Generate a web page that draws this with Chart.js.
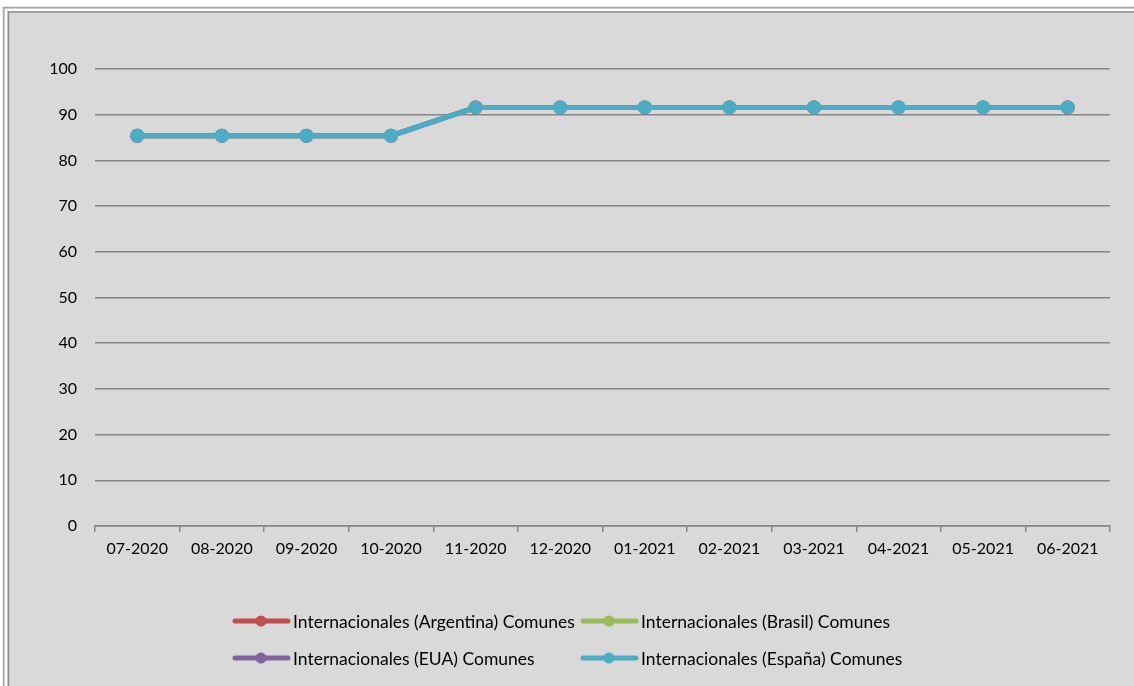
<!DOCTYPE html>
<html>
<head>
<meta charset="utf-8">
<script src="https://cdn.jsdelivr.net/npm/chart.js@4/dist/chart.umd.min.js"></script>
<style>
  html, body { margin: 0; padding: 0; background: #ffffff; }
  #wrap { width: 1134px; height: 686px; position: relative; }
</style>
</head>
<body>
<div id="wrap"><canvas id="lineChart"></canvas></div>
<script>
    // meses (eje x)
    var meses = ["07-2020", "08-2020", "09-2020", "10-2020", "11-2020", "12-2020",
                 "01-2021", "02-2021", "03-2021", "04-2021", "05-2021", "06-2021"];

    // las cuatro series son iguales, Espana queda encima
    var argentina = [85.4, 85.4, 85.4, 85.4, 91.6, 91.6, 91.6, 91.6, 91.6, 91.6, 91.6, 91.6];
    var brasil    = [85.4, 85.4, 85.4, 85.4, 91.6, 91.6, 91.6, 91.6, 91.6, 91.6, 91.6, 91.6];
    var eua       = [85.4, 85.4, 85.4, 85.4, 91.6, 91.6, 91.6, 91.6, 91.6, 91.6, 91.6, 91.6];
    var espana    = [85.4, 85.4, 85.4, 85.4, 91.6, 91.6, 91.6, 91.6, 91.6, 91.6, 91.6, 91.6];

    var nombres = ["Internacionales (Argentina) Comunes", "Internacionales (Brasil) Comunes",
                   "Internacionales (EUA) Comunes", "Internacionales (España) Comunes"];
    var colores = ["#c0504d", "#9bbb59", "#8064a2", "#4bacc6"];

    var fuente = "Lato, 'Open Sans', sans-serif";

    function serie(i, valores) {
        return {
            label: nombres[i],
            data: valores,
            order: 3 - i,   // la ultima serie se dibuja encima
            borderColor: colores[i],
            backgroundColor: colores[i],
            borderWidth: 5,
            pointRadius: 7,
            pointHoverRadius: 7,
            pointBorderWidth: 0,
            tension: 0
        };
    }

    // marco gris con doble borde (estilo Excel)
    var marco = {
        id: "marco",
        beforeDraw: function (chart) {
            var ctx = chart.ctx;
            ctx.save();
            ctx.fillStyle = "#ffffff";
            ctx.fillRect(0, 0, chart.width, chart.height);
            ctx.fillStyle = "#d9d9d9";
            ctx.fillRect(4, 8, chart.width, chart.height);
            ctx.strokeStyle = "#a6a6a6";
            ctx.lineWidth = 1.5;
            ctx.beginPath();
            ctx.moveTo(3.5, chart.height + 2);
            ctx.lineTo(3.5, 7.5);
            ctx.lineTo(chart.width + 2, 7.5);
            ctx.stroke();
            ctx.strokeStyle = "#ffffff";
            ctx.lineWidth = 2;
            ctx.beginPath();
            ctx.moveTo(6, chart.height + 2);
            ctx.lineTo(6, 10);
            ctx.lineTo(chart.width + 2, 10);
            ctx.stroke();
            ctx.strokeStyle = "#8c8c8c";
            ctx.lineWidth = 1.5;
            ctx.beginPath();
            ctx.moveTo(8.5, chart.height + 2);
            ctx.lineTo(8.5, 12);
            ctx.lineTo(chart.width + 2, 12);
            ctx.stroke();
            ctx.restore();
        }
    };

    // leyenda en dos filas
    var leyenda = {
        id: "leyenda",
        afterDraw: function (chart) {
            var ctx = chart.ctx;
            var pos = [[235, 621], [583, 621], [235, 658], [583, 658]];
            ctx.save();
            ctx.font = "17.5px " + fuente;
            ctx.textBaseline = "middle";
            chart.data.datasets.forEach(function (ds, i) {
                var x = pos[i][0], y = pos[i][1];
                ctx.strokeStyle = ds.borderColor;
                ctx.lineWidth = 5;
                ctx.lineCap = "round";
                ctx.beginPath();
                ctx.moveTo(x, y);
                ctx.lineTo(x + 53, y);
                ctx.stroke();
                ctx.fillStyle = ds.borderColor;
                ctx.beginPath();
                ctx.arc(x + 26, y, 5.5, 0, Math.PI * 2);
                ctx.fill();
                ctx.fillStyle = "#000000";
                ctx.fillText(ds.label, x + 58, y + 1);
            });
            ctx.restore();
        }
    };

    new Chart(document.getElementById("lineChart"), {
        type: "line",
        data: {
            labels: meses,
            datasets: [serie(0, argentina), serie(1, brasil), serie(2, eua), serie(3, espana)]
        },
        options: {
            responsive: true,
            maintainAspectRatio: false,
            animation: false,
            layout: {
                padding: { left: 0, right: 24, top: 69, bottom: 0 }
            },
            plugins: {
                legend: { display: false },
                title: { display: false },
                tooltip: { enabled: false }
            },
            scales: {
                x: {
                    offset: true,
                    afterFit: function (scale) { scale.height = 160; },
                    grid: {
                        offset: true,
                        drawOnChartArea: false,
                        drawTicks: true,
                        tickLength: 6,
                        color: "#868686",
                        lineWidth: 1.5
                    },
                    border: { display: true, color: "#868686", width: 1.5 },
                    ticks: {
                        color: "#000000",
                        padding: 7,
                        maxRotation: 0,
                        autoSkip: false,
                        font: { family: fuente, size: 16 }
                    }
                },
                y: {
                    min: 0,
                    max: 100,
                    afterFit: function (scale) { scale.width = 95; },
                    grid: {
                        drawTicks: false,
                        color: "#868686",
                        lineWidth: 1.5
                    },
                    border: { display: false },
                    ticks: {
                        stepSize: 10,
                        color: "#000000",
                        padding: 18,
                        font: { family: fuente, size: 16 }
                    }
                }
            }
        },
        plugins: [marco, leyenda]
    });
</script>
</body>
</html>
